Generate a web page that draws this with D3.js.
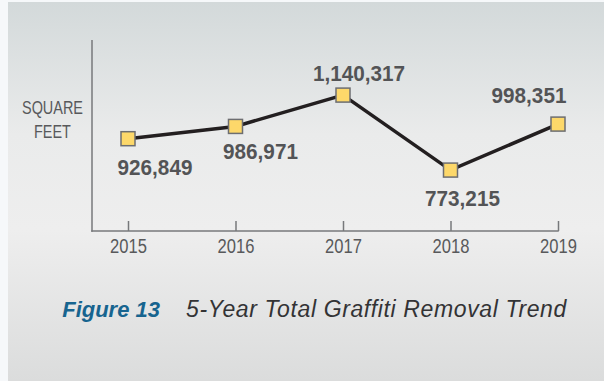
<!DOCTYPE html>
<html>
<head>
<meta charset="utf-8">
<script src="https://cdn.jsdelivr.net/npm/d3@7"></script>
<style>
  html, body { margin: 0; padding: 0; background: #f6f8fa; }
  svg { display: block; }
</style>
</head>
<body>
<svg id="chart" width="604" height="381"></svg>
<script>
// Annual graffiti removal totals, in square feet
const years = ["2015", "2016", "2017", "2018", "2019"];
const squareFeet = [926849, 986971, 1140317, 773215, 998351];
const yAxisTitle = ["SQUARE", "FEET"];
const figureNumber = "Figure 13";
const figureTitle = "5-Year Total Graffiti Removal Trend";

const W = 604, H = 381;
const svg = d3.select("#chart");

// squeeze text horizontally to give a condensed face
function condense(sel, factor) {
  sel.each(function () {
    const w = this.getComputedTextLength();
    d3.select(this)
      .attr("textLength", w * factor)
      .attr("lengthAdjust", "spacingAndGlyphs");
  });
}

// panel background with a soft vertical gradient
const defs = svg.append("defs");
const grad = defs.append("linearGradient")
  .attr("id", "panelGrad").attr("x1", 0).attr("y1", 0).attr("x2", 0).attr("y2", 1);
grad.append("stop").attr("offset", "0%").attr("stop-color", "#d3d9da");
grad.append("stop").attr("offset", "35%").attr("stop-color", "#eaebeb");
grad.append("stop").attr("offset", "60%").attr("stop-color", "#eeeeee");
grad.append("stop").attr("offset", "100%").attr("stop-color", "#dbdcdc");

svg.append("rect").attr("x", 0).attr("y", 0).attr("width", W).attr("height", H)
  .attr("fill", "#f6f8fa");
svg.append("rect").attr("x", 8).attr("y", 2).attr("width", W - 8).attr("height", H - 2)
  .attr("fill", "url(#panelGrad)");

// plot frame
const plotLeft = 92, plotTop = 40, plotBottom = 231;
const x = d3.scalePoint().domain(years).range([128, 558]);
const y = d3.scaleLinear().domain([475000, 1410000]).range([plotBottom, plotTop]);

const textGray = "#58595b";
const axisGray = "#77787b";
const sans = "'Liberation Sans', Arial, Helvetica, sans-serif";

// axes
svg.append("line")
  .attr("x1", plotLeft).attr("x2", plotLeft).attr("y1", plotTop).attr("y2", plotBottom + 0.75)
  .attr("stroke", axisGray).attr("stroke-width", 1.5);
svg.append("line")
  .attr("x1", plotLeft - 0.75).attr("x2", x(years[years.length - 1]) + 0.75)
  .attr("y1", plotBottom).attr("y2", plotBottom)
  .attr("stroke", axisGray).attr("stroke-width", 1.5);

const xAxis = svg.append("g")
  .attr("transform", `translate(0,${plotBottom})`)
  .call(d3.axisBottom(x).tickSize(-10).tickSizeOuter(0).tickPadding(8));
xAxis.select(".domain").remove();
xAxis.selectAll(".tick line").attr("stroke", axisGray).attr("stroke-width", 1.5);
xAxis.selectAll(".tick text")
  .attr("fill", textGray)
  .style("font-family", sans)
  .style("font-size", "19.5px")
  .call(condense, 0.85);

// y axis title
svg.append("g").selectAll("text").data(yAxisTitle).join("text")
  .attr("x", 52.5)
  .attr("y", (d, i) => 114 + i * 24)
  .attr("text-anchor", "middle")
  .attr("fill", textGray)
  .style("font-family", sans)
  .style("font-size", "19px")
  .text(d => d)
  .call(condense, 0.76);

// trend line
const pts = years.map((yr, i) => ({ year: yr, value: squareFeet[i] }));
svg.append("path")
  .datum(pts)
  .attr("fill", "none")
  .attr("stroke", "#231f20")
  .attr("stroke-width", 3.5)
  .attr("stroke-linejoin", "miter")
  .attr("d", d3.line().x(d => x(d.year)).y(d => y(d.value)));

// square markers
const size = 14;
svg.append("g").selectAll("rect").data(pts).join("rect")
  .attr("x", d => x(d.year) - size / 2)
  .attr("y", d => y(d.value) - size / 2)
  .attr("width", size).attr("height", size)
  .attr("fill", "#fdd86a")
  .attr("stroke", "#6d6e71")
  .attr("stroke-width", 1.5);

// value labels, placed above or below each marker
const labelPlacement = [[27, 36], [25, 33], [16, -14], [12, 36], [-29, -21]];
svg.append("g").selectAll("text").data(pts).join("text")
  .attr("x", (d, i) => x(d.year) + labelPlacement[i][0])
  .attr("y", (d, i) => y(d.value) + labelPlacement[i][1])
  .attr("text-anchor", "middle")
  .attr("fill", "#535456")
  .style("font-family", sans)
  .style("font-weight", "bold")
  .style("font-size", "22.5px")
  .text(d => d3.format(",")(d.value))
  .call(condense, 0.92);

// caption
svg.append("text")
  .attr("x", 160).attr("y", 317)
  .attr("text-anchor", "end")
  .attr("fill", "#17648f")
  .style("font-family", sans)
  .style("font-weight", "bold")
  .style("font-style", "italic")
  .style("font-size", "22px")
  .text(figureNumber);
svg.append("text")
  .attr("x", 186).attr("y", 317)
  .attr("fill", "#333335")
  .style("font-family", sans)
  .style("font-style", "italic")
  .style("font-size", "23px")
  .style("letter-spacing", "0.62px")
  .text(figureTitle);
</script>
</body>
</html>
